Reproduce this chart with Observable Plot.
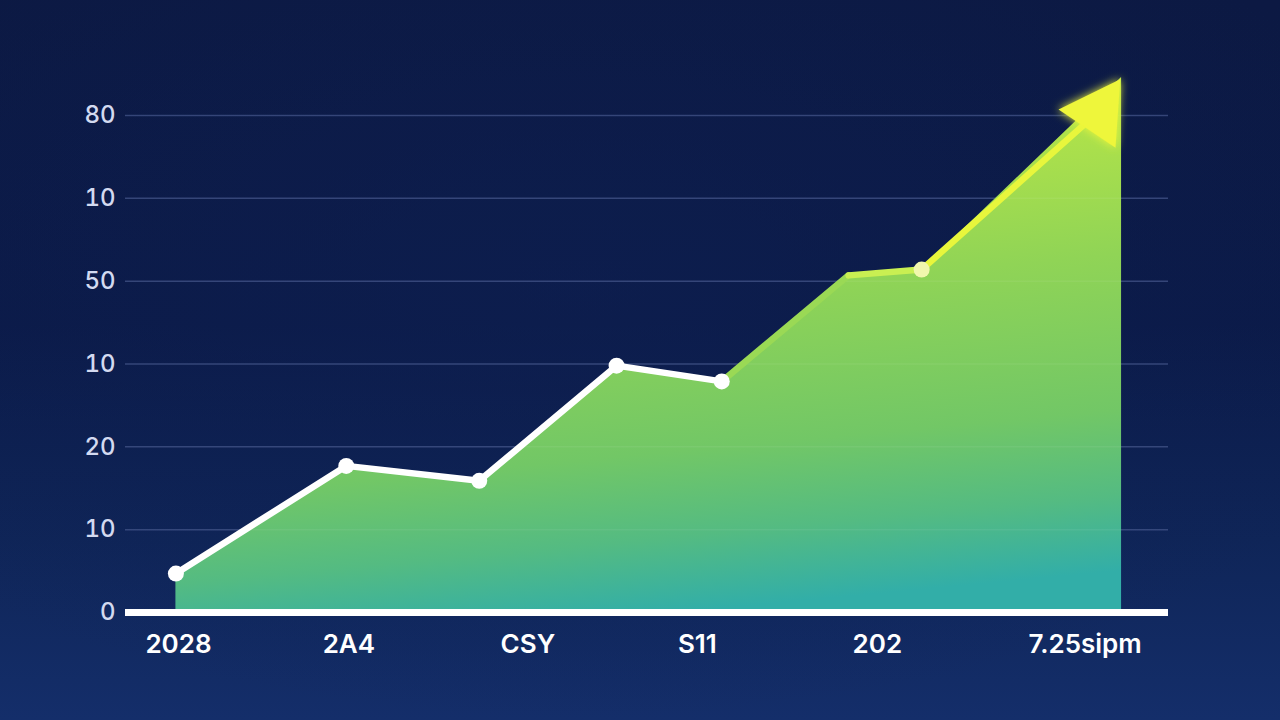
<!DOCTYPE html>
<html><head><meta charset="utf-8">
<script src="https://cdn.jsdelivr.net/npm/d3@7"></script>
<script src="https://cdn.jsdelivr.net/npm/@observablehq/plot@0.6"></script>
<style>
html,body{margin:0;padding:0;width:1280px;height:720px;overflow:hidden;}
body{background:
  radial-gradient(ellipse 70% 60% at 45% 40%, rgba(14,32,82,0.55) 0%, rgba(14,32,82,0) 100%),
  linear-gradient(180deg, #0c1943 0%, #0b1a48 45%, #0f2558 75%, #142e6a 100%);}
#chart svg{display:block;}
</style></head><body><div id="chart"></div>
<script>
// data
const xPos = [0.58, 2.54, 4.07, 5.65, 6.86, 8.32, 9.16];
const values = [4.7, 17.7, 15.9, 29.8, 27.9, 40.7, 41.4];
const hasDot = [true, true, true, true, true, false, true];
const arrowTipX = [11.46];
const arrowTipY = [64.6];
const arrowHeadX = [11.19];
const arrowHeadY = [60.4];
const yTicks = [0, 10, 20, 30, 40, 50, 60];
const yTickLabels = ["0", "10", "20", "10", "50", "10", "80"];
const xLabelPos = [0.61, 2.57, 4.63, 6.58, 8.65, 11.04];
const xLabels = ["2028", "2A4", "CSY", "S11", "202", "7.25sipm"];

// styles
const segColors = ["#ffffff", "#ffffff", "#ffffff", "#ffffff", "#9ad955", "#c9ef52", "#e8f63c"];
const dotColors = ["#ffffff", "#ffffff", "#ffffff", "#ffffff", "#ffffff", "#ffffff", "#f1f7ad"];

const points = xPos.map((x, i) => ({x, y: values[i], dot: hasDot[i], color: dotColors[i]}));
const tip = {x: arrowTipX[0], y: arrowTipY[0]};
const head = [{x: arrowHeadX[0], y: arrowHeadY[0]}];
const areaData = [...points, tip];
const chain = [...points, head[0]];
const segments = chain.slice(0, -1).map((p, i) => ({x1: p.x, y1: p.y, x2: chain[i + 1].x, y2: chain[i + 1].y, color: segColors[i]}));

const defs = () => {
  const ns = "http://www.w3.org/2000/svg";
  const d = document.createElementNS(ns, "defs");
  d.innerHTML = `
  <linearGradient id="areaGrad" gradientUnits="userSpaceOnUse" x1="630" y1="80" x2="680" y2="612">
    <stop offset="0" stop-color="#c4eb42"/>
    <stop offset="0.41" stop-color="#90d456"/>
    <stop offset="0.7" stop-color="#72c766"/>
    <stop offset="0.86" stop-color="#54bb82"/>
    <stop offset="1" stop-color="#32aea8"/>
  </linearGradient>
  <filter id="glow" x="-50%" y="-50%" width="200%" height="200%">
    <feGaussianBlur stdDeviation="5" result="b"/>
    <feMerge><feMergeNode in="b"/><feMergeNode in="SourceGraphic"/></feMerge>
  </filter>`;
  return d;
};

const chart = Plot.plot({
  width: 1280,
  height: 720,
  marginLeft: 125,
  marginRight: 112,
  marginTop: 115,
  marginBottom: 108,
  style: {background: "transparent", fontFamily: "Inter, 'Open Sans', sans-serif", overflow: "visible"},
  x: {domain: [0, 12], axis: null},
  y: {domain: [0, 60], axis: null},
  marks: [
    defs,
    Plot.ruleY(yTicks.slice(1), {stroke: "#33467e", strokeOpacity: 0.75, strokeWidth: 1.5}),
    Plot.axisY({ticks: yTicks, tickFormat: (d) => yTickLabels[yTicks.indexOf(d)], tickSize: 0, tickPadding: 10,
      fontSize: 24, fontWeight: 500, color: "#d3daf0", label: null}),
    Plot.areaY(areaData, {x: "x", y: "y", fill: "url(#areaGrad)", curve: "linear"}),
    Plot.ruleY(yTicks.slice(1), {stroke: "#ffffff", strokeOpacity: 0.06, strokeWidth: 1.5}),
    Plot.link(segments, {x1: "x1", y1: "y1", x2: "x2", y2: "y2", stroke: d => d.color, strokeWidth: 6.5, strokeLinecap: "round"}),
    Plot.ruleY([0], {stroke: "#ffffff", strokeWidth: 7}),
    Plot.dot(points.filter(d => d.dot), {x: "x", y: "y", r: 8, fill: d => d.color, stroke: "none"}),
    Plot.dot(head, {x: "x", y: "y", symbol: "triangle", r: 25.5, rotate: 34, fill: "#eef63a", stroke: "none"}),
    Plot.text(xLabels, {x: (d, i) => xLabelPos[i], text: d => d, frameAnchor: "bottom", dy: 32, lineAnchor: "middle",
      fontSize: 26, fontWeight: 600, fill: "#ffffff"})
  ]
});

document.getElementById("chart").appendChild(chart);
const dotGroups = chart.querySelectorAll('g[aria-label="dot"]');
if (dotGroups.length) dotGroups[dotGroups.length - 1].setAttribute("filter", "url(#glow)");
</script>
</body></html>
